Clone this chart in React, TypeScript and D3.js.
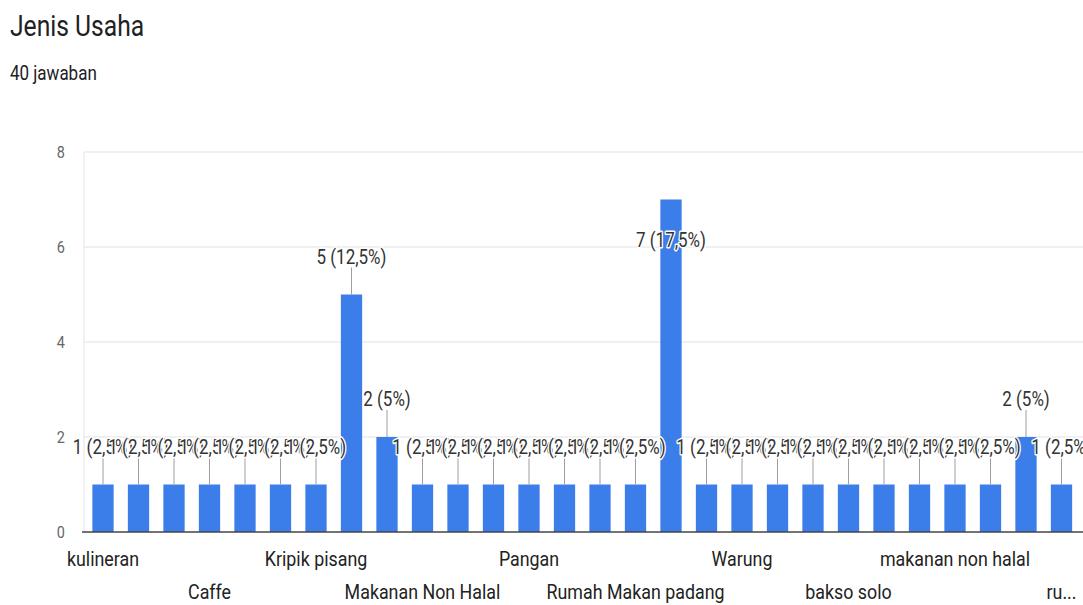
import React from "react";
import * as d3 from "d3";

const W = 1083;
const H = 605;

const title = "Jenis Usaha";
const subtitle = "40 jawaban";

const categories = [
  "kulineran", "Bakso", "Bengkel", "Caffe", "Catering", "Jualan online",
  "Kripik pisang", "Kuliner", "Makanan", "Makanan Non Halal", "Makanan ringan",
  "Minuman", "Pangan", "Rumah Makan", "Rumah Makan Minang", "Rumah Makan padang",
  "Rumah makan", "Toko kue", "Warung", "Warung Makan", "Warung makan",
  "bakso solo", "catering", "kuliner", "makanan non halal", "minuman", "pangan",
  "rumah makan",
];

const values = [
  1, 1, 1, 1, 1, 1, 1, 5, 2, 1, 1, 1, 1, 1, 1, 1, 7, 1, 1, 1, 1, 1, 1, 1, 1, 1, 2, 1,
];

const yTicks = [0, 2, 4, 6, 8];
const labelEvery = 3;

const SX = 0.85;
const FONT = "Roboto, Arial, sans-serif";

function fmtPct(v: number, total: number) {
  const p = Math.round((v / total) * 1000) / 10;
  return (Number.isInteger(p) ? String(p) : p.toFixed(1).replace(".", ",")) + "%";
}

let ctx: CanvasRenderingContext2D | null = null;
function measure(text: string, size: number) {
  if (!ctx) ctx = document.createElement("canvas").getContext("2d");
  if (!ctx) return text.length * size * 0.5 * SX;
  ctx.font = `${size}px Roboto`;
  return ctx.measureText(text).width * SX;
}
function truncate(text: string, size: number, maxW: number) {
  if (measure(text, size) <= maxW) return text;
  let t = text;
  while (t.length > 1 && measure(t + "...", size) > maxW) t = t.slice(0, -1);
  return t + "...";
}

function SText(props: any) {
  const { x, y, sx = SX, children, ...rest } = props;
  return (
    <text transform={`translate(${x},${y}) scale(${sx},1)`} fontFamily={FONT} {...rest}>
      {children}
    </text>
  );
}

export default function App() {
  const n = categories.length;
  const total = d3.sum(values);
  const maxV = d3.max(values) as number;

  const x = d3
    .scaleBand<number>()
    .domain(d3.range(n))
    .range([85.25, 1079.25])
    .paddingInner(0.4)
    .paddingOuter(0.2);
  const y = d3.scaleLinear().domain([0, 8]).range([532, 152]);
  const bw = x.bandwidth();
  const cx = (i: number) => (x(i) as number) + bw / 2;

  const xLabelSize = 21;
  const shown = d3.range(0, n, labelEvery);

  return (
    <svg
      width={W}
      height={H}
      style={{ position: "absolute", left: 0, top: 0, background: "#fff" }}
    >
      <rect width={W} height={H} fill="#fff" />
      <SText x={10} y={36} fontSize={29} fill="#202124">{title}</SText>
      <SText x={10} y={80} fontSize={20} fill="#202124">{subtitle}</SText>

      {/* grid */}
      {yTicks.map((t) => (
        <g key={t}>
          {t !== 0 && (
            <line x1={84} x2={W} y1={y(t)} y2={y(t)} stroke="#ebebeb" strokeWidth={1.5} />
          )}
          <SText
            x={65}
            y={y(t) + 6}
            fontSize={17}
            fill="#666"
            textAnchor="end"
          >
            {t}
          </SText>
        </g>
      ))}
      <line x1={84} x2={84} y1={y(8)} y2={y(0)} stroke="#ececec" strokeWidth={1.5} />

      {/* bars */}
      {values.map((v, i) => (
        <rect key={i} x={x(i)} y={y(v)} width={bw} height={y(0) - y(v)} fill="#3c7ee9" />
      ))}
      <line x1={82} x2={W} y1={y(0)} y2={y(0)} stroke="#444" strokeWidth={1.3} />

      {/* annotations */}
      {values.map((v, i) => {
        const top = y(v);
        const inside = v === maxV;
        const base = inside ? top + 47 : top - 31;
        return (
          <g key={i}>
            {!inside && (
              <line x1={cx(i)} x2={cx(i)} y1={top} y2={top - 27} stroke="#9e9e9e" strokeWidth={1} />
            )}
            <SText
              x={cx(i)}
              y={base}
              fontSize={20}
              textAnchor="middle"
              fill="#333"
              stroke="#fff"
              strokeWidth={3}
              strokeLinejoin="round"
              paintOrder="stroke"
            >
              {`${v} (${fmtPct(v, total)})`}
            </SText>
          </g>
        );
      })}

      {/* x labels */}
      {shown.map((i, k) => {
        const c = cx(i);
        const maxW = Math.min(6 * x.step(), 2 * (W - c) - 2);
        const label = truncate(categories[i], xLabelSize, maxW);
        return (
          <SText
            key={i}
            x={c}
            y={k % 2 === 0 ? 566 : 599}
            fontSize={xLabelSize}
            textAnchor="middle"
            fill="#222"
          >
            {label}
          </SText>
        );
      })}
    </svg>
  );
}
